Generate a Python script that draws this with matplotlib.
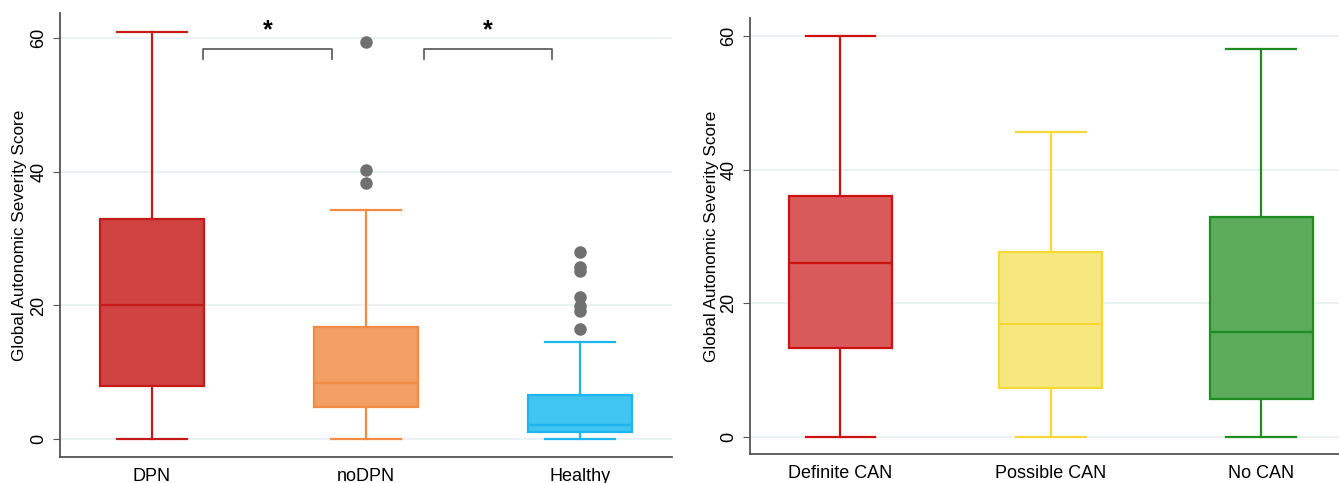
import matplotlib
matplotlib.use("Agg")
import matplotlib.pyplot as plt

plt.rcParams['font.family'] = ['Liberation Sans', 'DejaVu Sans']

# left panel: neuropathy groups
groups_a = ["DPN", "noDPN", "Healthy"]
whislo_a = [0, 0, 0]
q1_a = [8.0, 4.8, 1.0]
med_a = [20.0, 8.4, 2.1]
q3_a = [33.0, 16.8, 6.6]
whishi_a = [61.0, 34.3, 14.5]
fliers_a = [[], [59.5, 40.3, 38.4], [28.0, 25.7, 25.2, 21.3, 19.9, 19.2, 16.5]]
face_a = ["#D04242", "#F29F63", "#40C4F1"]
edge_a = ["#C41A1A", "#F08C45", "#1CB5EE"]

# right panel: CAN groups
groups_b = ["Definite CAN", "Possible CAN", "No CAN"]
whislo_b = [0, 0, 0]
q1_b = [13.3, 7.3, 5.7]
med_b = [26.0, 16.8, 15.6]
q3_b = [36.1, 27.7, 32.9]
whishi_b = [60.0, 45.6, 58.1]
face_b = ["#D95A5A", "#F7E77F", "#5BAB5B"]
edge_b = ["#CC1111", "#F5D835", "#1F8C1F"]

# significance brackets (left panel)
brackets = [(1.24, 1.84), (2.27, 2.87)]

fig = plt.figure(figsize=(13.39, 4.83), dpi=100)
axA = fig.add_axes([60 / 1339, 26 / 483, 612 / 1339, 444 / 483])
axB = fig.add_axes([750 / 1339, 29 / 483, 589 / 1339, 436 / 483])


def draw(ax, names, lo, q1, med, q3, hi, fliers, faces, edges):
    stats = []
    for i in range(len(names)):
        stats.append({"label": names[i], "whislo": lo[i], "q1": q1[i], "med": med[i],
                      "q3": q3[i], "whishi": hi[i], "fliers": fliers[i]})
    for i, s in enumerate(stats):
        ax.bxp([s], positions=[i + 1], widths=0.49, patch_artist=True, showfliers=True,
               boxprops=dict(facecolor=faces[i], edgecolor=edges[i], linewidth=1.6),
               medianprops=dict(color=edges[i], linewidth=1.6),
               whiskerprops=dict(color=edges[i], linewidth=1.6),
               capprops=dict(color=edges[i], linewidth=1.6),
               capwidths=0.33,
               flierprops=dict(marker='o', markerfacecolor='#707070', markeredgecolor='#707070',
                               markersize=8))
    ax.set_xticks([1, 2, 3])
    ax.set_xticklabels(names, fontsize=13)
    ax.set_yticks([0, 20, 40, 60])
    ax.set_yticklabels(["0", "20", "40", "60"], rotation=90, va='center', fontsize=13)
    ax.set_ylabel("Global Autonomic Severity Score", fontsize=12.3)
    ax.yaxis.grid(True, color='#E6F0F2', linewidth=1.2)
    ax.set_axisbelow(True)
    for side in ["top", "right"]:
        ax.spines[side].set_visible(False)
    for side in ["left", "bottom"]:
        ax.spines[side].set_color('#555555')
        ax.spines[side].set_linewidth(1.3)
    ax.tick_params(axis='x', length=0, pad=8)
    ax.tick_params(axis='y', length=5, color='#555555', pad=4)


draw(axA, groups_a, whislo_a, q1_a, med_a, q3_a, whishi_a, fliers_a, face_a, edge_a)
draw(axB, groups_b, whislo_b, q1_b, med_b, q3_b, whishi_b, [[], [], []], face_b, edge_b)

axA.set_xlim(0.57, 3.43)
axA.set_ylim(-2.7, 63.8)
axB.set_xlim(0.57, 3.37)
axB.set_ylim(-2.6, 62.7)

for x0, x1 in brackets:
    axA.plot([x0, x0, x1, x1], [56.9, 58.4, 58.4, 56.9], color='#555555', linewidth=1.2)
    axA.text((x0 + x1) / 2, 61.2, "*", ha='center', va='center', fontsize=18, fontweight='bold')

axA.yaxis.set_label_coords(-0.054, 0.5)
axB.yaxis.set_label_coords(-0.053, 0.5)

fig.savefig("out.png", dpi=100)
